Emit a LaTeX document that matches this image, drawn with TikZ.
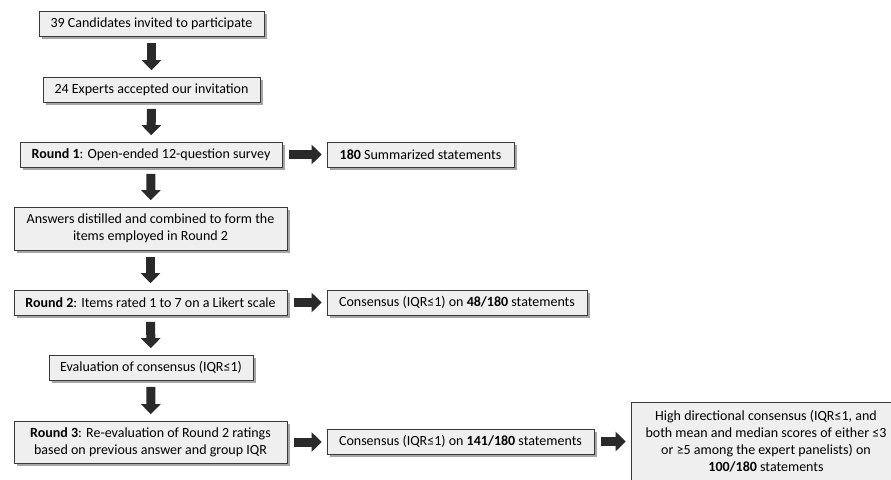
\documentclass[tikz,border=0pt]{standalone}
\usepackage{fontspec}
\setmainfont{Carlito}
\usetikzlibrary{arrows.meta,shadows}
\definecolor{boxfill}{HTML}{EFEFEF}
\definecolor{boxline}{HTML}{3A3A3A}
\definecolor{arrowc}{HTML}{2A2A2A}
\begin{document}
\begin{tikzpicture}[x=1pt,y=-1pt,
  box/.style={draw=boxline, line width=0.7pt, fill=boxfill, align=center, inner sep=2pt,
    minimum height=25pt,
    font=\fontsize{14}{17}\selectfont,
    drop shadow={shadow xshift=2.5pt, shadow yshift=-2.5pt, fill=black, opacity=0.35}},
  blk/.style={draw=arrowc, line width=9pt, -{Triangle[width=19pt,length=10pt]}},
  vblk/.style={blk, shorten <=6.5pt, shorten >=6.5pt},
  hblk/.style={blk, shorten <=7pt, shorten >=5pt}]
\useasboundingbox (0,0) rectangle (891,479);
\fill[white] (0,0) rectangle (891,479);
\clip (0,0) rectangle (891,479);

\node[box, minimum width=225pt] (b1) at (151.5,23.5) {39 Candidates invited to participate};
\node[box, minimum width=217pt] (b2) at (151.5,89.5) {24 Experts accepted our invitation};
\node[box, minimum width=262pt] (r1) at (151,154.5) {\textbf{Round 1}: Open-ended 12-question survey};
\node[box, minimum width=187pt] (s180) at (420.5,154.5) {\textbf{180} Summarized statements};
\node[box, minimum width=273pt, minimum height=43pt] (ans) at (150.5,228.5) {Answers distilled and combined to form the\\items employed in Round 2};
\node[box, minimum width=273pt] (r2) at (150.5,302.5) {\textbf{Round 2}: Items rated 1 to 7 on a Likert scale};
\node[box, minimum width=260pt] (c48) at (457,302.5) {Consensus (IQR≤1) on \textbf{48/180} statements};
\node[box, minimum width=204pt] (ev) at (151,367.5) {Evaluation of consensus (IQR≤1)};
\node[box, minimum width=273pt, minimum height=42pt] (r3) at (150.5,442) {\textbf{Round 3}: Re-evaluation of Round 2 ratings\\based on previous answer and group IQR};
\node[box, minimum width=267pt] (c141) at (460.5,441.5) {Consensus (IQR≤1) on \textbf{141/180} statements};
\node[box, minimum width=270pt, minimum height=78pt] (hd) at (766,441.5) {High directional consensus (IQR≤1, and\\both mean and median scores of either ≤3\\or ≥5 among the expert panelists) on\\\textbf{100/180} statements};

\draw[vblk] (b1) -- (b2);
\draw[vblk] (b2) -- (r1);
\draw[vblk] (r1) -- (ans);
\draw[vblk] (ans) -- (r2);
\draw[vblk] (r2) -- (ev);
\draw[vblk] (ev) -- (r3);
\draw[hblk] (r1) -- (s180);
\draw[hblk] (r2) -- (c48);
\draw[hblk] (r3.east) -- (r3.east -| c141.west);
\draw[hblk] (c141.east) -- (c141.east -| hd.west);
\end{tikzpicture}
\end{document}
